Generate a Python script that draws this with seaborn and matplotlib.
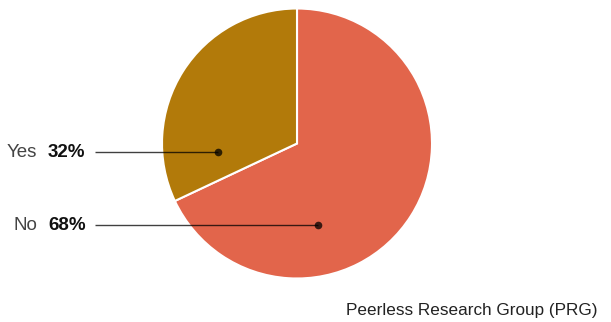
import matplotlib
matplotlib.use("Agg")
import matplotlib.pyplot as plt
import seaborn as sns

# Survey answers
answers = ["No", "Yes"]
shares = [68, 32]
colors = ["#E2654B", "#B27A0A"]
source = "Peerless Research Group (PRG)"

sns.set_theme(style="white")
plt.rcParams["font.family"] = ["Liberation Sans", "DejaVu Sans"]

W, H = 611, 322
fig = plt.figure(figsize=(W / 100, H / 100), dpi=100)
ax = fig.add_axes([0, 0, 1, 1])

# pie geometry in pixel units (y measured upward)
cx, cy, r = 297, H - 143.5, 135
ax.pie(shares, colors=colors, startangle=90, counterclock=False,
       center=(cx, cy), radius=r,
       wedgeprops=dict(edgecolor="white", linewidth=1.5))

ax.set_xlim(0, W)
ax.set_ylim(0, H)
ax.set_aspect("equal")
ax.axis("off")

# callout rows: label y and dot x (pixels)
callouts = {"Yes": (152, 218), "No": (225, 318)}
for name, pct in zip(answers, shares):
    py, dx = callouts[name]
    y = H - py
    ax.text(37, y, name, ha="right", va="center", fontsize=13.5, color="#444444")
    ax.text(48, y, f"{pct}%", ha="left", va="center", fontsize=13.5,
            fontweight="bold", color="#111111")
    ax.plot([95, dx], [y, y], color="black", alpha=0.75, lw=1, solid_capstyle="butt")
    ax.plot([dx], [y], "o", color="black", alpha=0.75, ms=5.5, mec="none")

ax.text(597, H - 310, source, ha="right", va="center", fontsize=12.3,
        color="#222222")

fig.savefig("out.png", dpi=100)
